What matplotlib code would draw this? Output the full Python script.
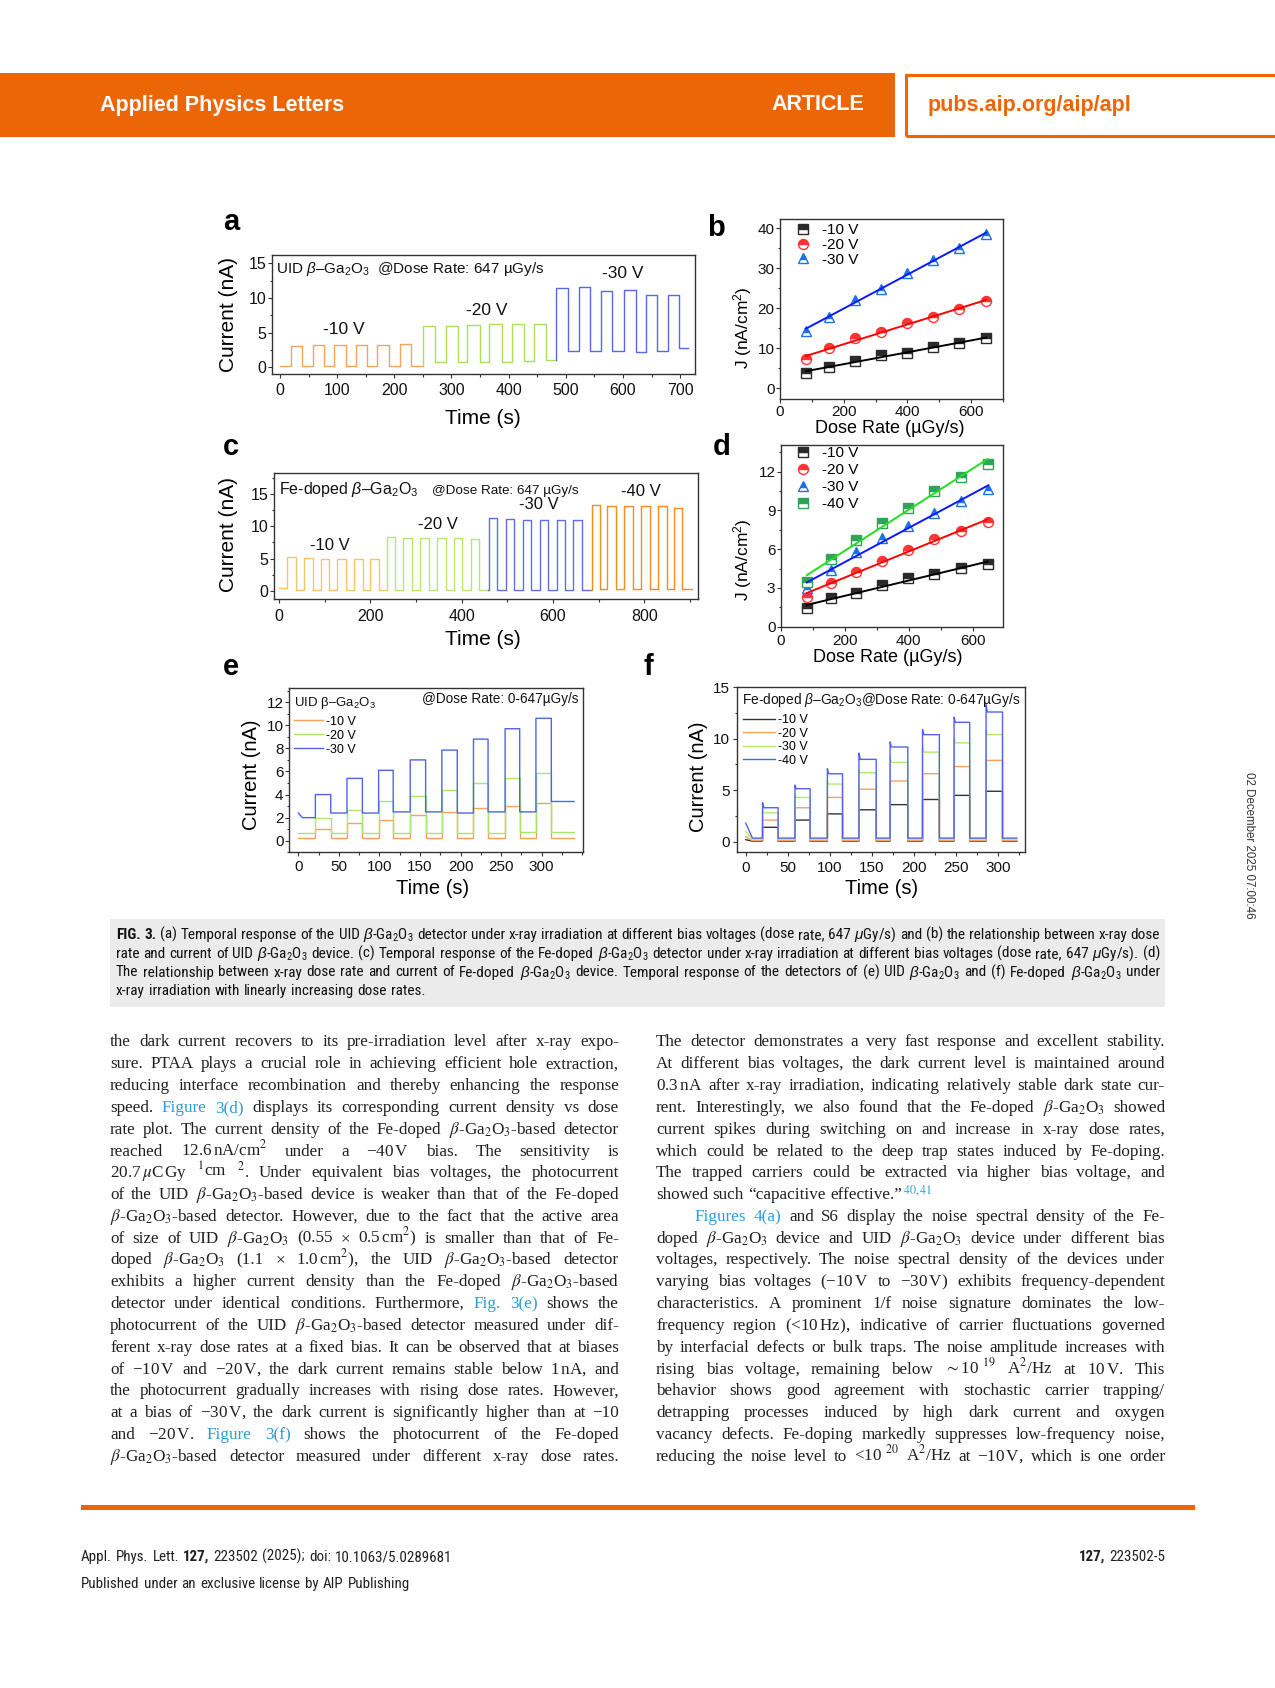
import re
import numpy as np
import matplotlib
matplotlib.use('Agg')
import matplotlib.pyplot as plt
from matplotlib import font_manager
from matplotlib.font_manager import FontProperties
from matplotlib.ticker import MultipleLocator, FixedLocator
from matplotlib.patches import Rectangle

W, H = 1275, 1688

# ======================= DATA =======================
# (a) UID beta-Ga2O3, 647 uGy/s, bias steps
a10_span = [0, 250]
a10_start = [19, 57, 95, 133, 170, 210]
a10_end = [39, 77, 115, 153, 190, 230]
a10_on = [3.1, 3.3, 3.3, 3.3, 3.3, 3.4]
a10_off = [0.2, 0.2, 0.2, 0.2, 0.2, 0.2, 0.2]
a20_span = [250, 482]
a20_start = [250, 291, 328, 366, 406, 444]
a20_end = [271, 311, 350, 388, 427, 465]
a20_on = [6.0, 6.0, 6.1, 6.2, 6.3, 6.3]
a20_off = [0.2, 0.8, 0.8, 0.8, 0.8, 0.9, 1.0]
a30_span = [482, 714]
a30_start = [483, 523, 561, 602, 640, 678]
a30_end = [503, 543, 581, 622, 660, 698]
a30_on = [11.5, 11.6, 11.0, 11.1, 10.4, 10.4]
a30_off = [1.0, 2.3, 2.4, 2.4, 2.2, 2.3, 2.8]

# (b) UID: current density vs dose rate
dose = [81, 155, 235, 316, 398, 480, 563, 647]
b_m10 = [3.7, 5.4, 6.8, 8.3, 8.9, 10.2, 11.2, 12.5]
b_m20 = [7.2, 10.0, 12.5, 14.0, 16.4, 17.9, 19.8, 21.7]
b_m30 = [14.3, 17.9, 22.1, 24.7, 28.7, 32.1, 35.0, 38.6]

# (c) Fe-doped, 647 uGy/s, bias steps
c10_span = [0, 236]
c10_start = [18, 55, 91, 128, 164, 200]
c10_end = [37, 74, 110, 147, 183, 219]
c10_on = [5.3, 5.1, 5.0, 5.0, 4.9, 4.9]
c10_off = [0.5, 0.2, 0.2, 0.2, 0.2, 0.2, 0.2]
c20_span = [236, 457]
c20_start = [237, 272, 309, 346, 384, 421]
c20_end = [255, 291, 328, 365, 402, 439]
c20_on = [8.3, 8.2, 8.2, 8.2, 8.2, 8.1]
c20_off = [0.2, 0.2, 0.2, 0.2, 0.2, 0.2, 0.2]
c30_span = [457, 683]
c30_start = [459, 497, 534, 572, 609, 645]
c30_end = [477, 515, 552, 590, 627, 663]
c30_on = [11.2, 11.1, 10.9, 10.9, 10.9, 10.9]
c30_off = [0.2, 0.2, 0.2, 0.2, 0.2, 0.2, 0.2]
c40_span = [683, 905]
c40_start = [685, 719, 756, 793, 830, 865]
c40_end = [703, 738, 775, 812, 849, 884]
c40_on = [13.2, 13.1, 13.1, 13.1, 13.1, 12.8]
c40_off = [0.2, 0.3, 0.3, 0.3, 0.3, 0.3, 0.3]

# (d) Fe-doped: current density vs dose rate
d_m10 = [1.42, 2.2, 2.63, 3.23, 3.74, 4.08, 4.52, 4.85]
d_m20 = [2.32, 3.4, 4.26, 5.11, 5.94, 6.76, 7.43, 8.08]
d_m30 = [2.97, 4.39, 5.76, 6.84, 7.79, 8.77, 9.73, 10.63]
d_m40 = [3.43, 5.24, 6.71, 8.0, 9.21, 10.53, 11.56, 12.59]

# (e) UID, linearly increasing dose rate
e_span = [0, 340]
e_start = [21, 60, 99, 138, 177, 216, 255, 293]
e_end = [40, 79, 117, 157, 196, 234, 273, 312]
e10_on = [1.0, 1.5, 1.8, 2.2, 2.45, 2.8, 3.05, 3.3]
e10_off = [0.25, 0.25, 0.25, 0.25, 0.25, 0.25, 0.25, 0.25, 0.25]
e20_on = [2.0, 2.7, 3.4, 3.9, 4.4, 5.0, 5.4, 5.9]
e20_off = [0.7, 0.65, 0.7, 0.65, 0.65, 0.7, 0.7, 0.75, 0.8]
e30_on = [4.0, 5.4, 6.1, 7.0, 7.85, 8.8, 9.7, 10.6]
e30_off = [2.0, 2.4, 2.4, 2.5, 2.5, 2.4, 2.5, 2.5, 3.4]
e30_init = 2.4

# (f) Fe-doped, linearly increasing dose rate
f_span = [0, 322]
f_start = [20, 58.5, 97, 134.5, 171.5, 210, 247.5, 285.5]
f_end = [38.5, 76.5, 115, 155, 192.5, 230, 266, 305]
f10_on = [1.4, 2.1, 2.7, 3.1, 3.6, 4.1, 4.5, 4.9]
f10_off = [0.05] * 9
f20_on = [2.1, 3.3, 4.3, 5.1, 5.9, 6.6, 7.3, 7.9]
f20_off = [0.1] * 9
f30_on = [2.8, 4.3, 5.6, 6.7, 7.7, 8.7, 9.6, 10.4]
f30_peak = [3.0, 4.5, 5.8, 7.0, 8.2, 9.2, 10.0, 10.8]
f30_off = [0.25] * 9
f40_on = [3.3, 5.15, 6.6, 8.0, 9.2, 10.4, 11.6, 12.6]
f40_peak = [3.8, 5.5, 7.1, 8.6, 9.7, 10.9, 12.1, 13.3]
f40_off = [0.35] * 9
f_init = [0.2, 0.5, 1.0, 1.8]

time_ticks_ef = [0, 50, 100, 150, 200, 250, 300]

# ======================= TEXT =======================
SUB = "$\\beta$-Ga$_\\mathregular{2}$O$_\\mathregular{3}$"
caption_lines = [
    "@@FIG. @@3. (a) Temporal response of the UID " + SUB + " detector under x-ray irradiation at different bias voltages (dose rate, 647 $\\mu$Gy/s) and (b) the relationship between x-ray dose",
    "rate and current of UID " + SUB + " device. (c) Temporal response of the Fe-doped " + SUB + " detector under x-ray irradiation at different bias voltages (dose rate, 647 $\\mu$Gy/s). (d)",
    "The relationship between x-ray dose rate and current of Fe-doped " + SUB + " device. Temporal response of the detectors of (e) UID " + SUB + " and (f) Fe-doped " + SUB + " under",
    "x-ray irradiation with linearly increasing dose rates.",
]
GO = "$\\beta$-Ga$_2$O$_3$"
left_lines = [
    "the dark current recovers to its pre-irradiation level after x-ray expo-",
    "sure. PTAA plays a crucial role in achieving efficient hole extraction,",
    "reducing interface recombination and thereby enhancing the response",
    "speed. «Figure» «3(d)» displays its corresponding current density vs dose",
    "rate plot. The current density of the Fe-doped " + GO + "-based detector",
    "reached 12.6$\\,$nA/cm$^2$ under a \u221240$\\,$V bias. The sensitivity is",
    "20.7$\\,\\mu$C$\\,$Gy $^{1}$cm $^{2}$. Under equivalent bias voltages, the photocurrent",
    "of the UID " + GO + "-based device is weaker than that of the Fe-doped",
    GO + "-based detector. However, due to the fact that the active area",
    "of size of UID " + GO + " (0.55 \u00d7 0.5$\\,$cm$^2$) is smaller than that of Fe-",
    "doped " + GO + " (1.1 \u00d7 1.0$\\,$cm$^2$), the UID " + GO + "-based detector",
    "exhibits a higher current density than the Fe-doped " + GO + "-based",
    "detector under identical conditions. Furthermore, «Fig.» «3(e)» shows the",
    "photocurrent of the UID " + GO + "-based detector measured under dif-",
    "ferent x-ray dose rates at a fixed bias. It can be observed that at biases",
    "of \u221210$\\,$V and \u221220$\\,$V, the dark current remains stable below 1$\\,$nA, and",
    "the photocurrent gradually increases with rising dose rates. However,",
    "at a bias of \u221230$\\,$V, the dark current is significantly higher than at \u221210",
    "and \u221220$\\,$V. «Figure» «3(f)» shows the photocurrent of the Fe-doped",
    GO + "-based detector measured under different x-ray dose rates.",
]
right_lines = [
    "The detector demonstrates a very fast response and excellent stability.",
    "At different bias voltages, the dark current level is maintained around",
    "0.3$\\,$nA after x-ray irradiation, indicating relatively stable dark state cur-",
    "rent. Interestingly, we also found that the Fe-doped " + GO + " showed",
    "current spikes during switching on and increase in x-ray dose rates,",
    "which could be related to the deep trap states induced by Fe-doping.",
    "The trapped carriers could be extracted via higher bias voltage, and",
    "showed such \u201ccapacitive effective.\u201d«$^{40,41}$»",
    "«Figures» «4(a)» and S6 display the noise spectral density of the Fe-",
    "doped " + GO + " device and UID " + GO + " device under different bias",
    "voltages, respectively. The noise spectral density of the devices under",
    "varying bias voltages (\u221210$\\,$V to \u221230$\\,$V) exhibits frequency-dependent",
    "characteristics. A prominent 1/f noise signature dominates the low-",
    "frequency region (<10$\\,$Hz), indicative of carrier fluctuations governed",
    "by interfacial defects or bulk traps. The noise amplitude increases with",
    "rising bias voltage, remaining below $\\sim$10$^{\\;\\;19}$ A$^2$/Hz at 10$\\,$V. This",
    "behavior shows good agreement with stochastic carrier trapping/",
    "detrapping processes induced by high dark current and oxygen",
    "vacancy defects. Fe-doping markedly suppresses low-frequency noise,",
    "reducing the noise level to <10$^{\\;\\;20}$ A$^2$/Hz at \u221210$\\,$V, which is one order",
]

# ======================= STYLE =======================
plt.rcParams['font.family'] = ['Liberation Sans', 'DejaVu Sans']
plt.rcParams['mathtext.fontset'] = 'custom'
plt.rcParams['mathtext.rm'] = 'Liberation Sans'
plt.rcParams['mathtext.it'] = 'Liberation Sans:italic'
plt.rcParams['mathtext.bf'] = 'Liberation Sans:bold'
plt.rcParams['axes.unicode_minus'] = False

HDR = '#EC6608'
LINK = '#2E9BD6'
BODY = '#231F20'
SPINE = '#333333'


def find_narrow(weight):
    cands = [('Liberation Sans Narrow', 'normal'), ('Arial Narrow', 'normal'),
             ('Roboto Condensed', 'normal'), ('DejaVu Sans', 'condensed'),
             ('Open Sans', 'condensed'), ('Noto Sans', 'condensed'), ('Roboto', 'condensed')]
    for fam, st in cands:
        try:
            path = font_manager.findfont(FontProperties(family=fam, stretch=st, weight=weight),
                                         fallback_to_default=False)
        except Exception:
            continue
        low = path.lower()
        if 'narrow' in low or 'condensed' in low:
            return FontProperties(fname=path)
    return None


nar_r = find_narrow('normal')
nar_b = find_narrow('bold')
if nar_r is None:
    SANS_SPEC = {'regular': FontProperties(family='Liberation Sans'),
                 'bold': FontProperties(family='Liberation Sans', weight='bold')}
else:
    SANS_SPEC = {'regular': nar_r, 'bold': nar_b if nar_b is not None else nar_r}
SERIF_SPEC = {'regular': FontProperties(family='Liberation Serif'),
              'bold': FontProperties(family='Liberation Serif', weight='bold')}

fig = plt.figure(figsize=(W / 100, H / 100), dpi=100)
fig.patch.set_facecolor('white')
renderer = fig.canvas.get_renderer()


def ftext(x, y, s, **kw):
    return fig.text(x / W, 1 - y / H, s, **kw)


def frect(x0, y0, x1, y1, **kw):
    r = Rectangle((x0 / W, 1 - y1 / H), (x1 - x0) / W, (y1 - y0) / H, transform=fig.transFigure, **kw)
    fig.add_artist(r)
    return r


def make_ax(l, t, r, b):
    return fig.add_axes([l / W, 1 - b / H, (r - l) / W, (b - t) / H])


def style(ax, xlim, ylim, xmaj, xmin, ymaj, ymin, lsize, xpad, ypad):
    ax.set_xlim(xlim)
    ax.set_ylim(ylim)
    if isinstance(xmaj, (list, tuple)):
        ax.xaxis.set_major_locator(FixedLocator(xmaj))
    else:
        ax.xaxis.set_major_locator(MultipleLocator(xmaj))
    ax.xaxis.set_minor_locator(MultipleLocator(xmin))
    ax.yaxis.set_major_locator(MultipleLocator(ymaj))
    ax.yaxis.set_minor_locator(MultipleLocator(ymin))
    ax.tick_params(which='both', direction='out', top=False, right=False,
                   labelsize=lsize, width=0.8, color=SPINE, labelcolor='#111111')
    ax.tick_params(which='major', length=3.2)
    ax.tick_params(which='minor', length=1.8)
    ax.tick_params(axis='x', pad=xpad)
    ax.tick_params(axis='y', pad=ypad)
    for s in ax.spines.values():
        s.set_linewidth(1.0)
        s.set_color(SPINE)


def square_wave(span, starts, ends, on, off, peak=None, init=None, init_dur=8):
    t = [span[0]]
    y = [off[0] if init is None else init]
    if init is not None:
        t.append(span[0] + init_dur)
        y.append(off[0])
    for i, (s, e) in enumerate(zip(starts, ends)):
        t += [s, s]
        y += [off[i], peak[i] if peak is not None else on[i]]
        if peak is not None:
            t.append(s + 1.5)
            y.append(on[i])
        t += [e, e]
        y += [on[i], off[i + 1]]
    t.append(span[1])
    y.append(off[-1])
    return np.array(t, float), np.array(y, float)


LW = 1.0

# ======================= HEADER / FOOTER =======================
frect(0, 73, 895, 137, color=HDR, lw=0)
frect(906, 74.5, 1285, 135.5, fill=False, ec=HDR, lw=2.2)
ftext(100, 105, 'Applied Physics Letters', color='white', fontsize=15.5, weight='bold', va='center', ha='left')
ftext(864, 105, 'ARTICLE', color='white', fontsize=15.5, weight='bold', va='center', ha='right')
ftext(928, 105, 'pubs.aip.org/aip/apl', color=HDR, fontsize=15.5, weight='bold', va='center', ha='left')
ftext(1249, 845, '02 December 2025 07:00:46', rotation=270, fontsize=8.3, color='#333333', ha='center', va='center')
frect(81, 1505, 1195, 1510, color=HDR, lw=0)

# ======================= PANEL a =======================
axa = make_ax(272, 255, 695, 374)
style(axa, (-14, 726), (-0.95, 16.2), 100, 50, 5, 2.5, 11.5, 3.5, 0.8)
for sp, st, en, on, off, col in [
        (a10_span, a10_start, a10_end, a10_on, a10_off, '#F7A35C'),
        (a20_span, a20_start, a20_end, a20_on, a20_off, '#A8E05C'),
        (a30_span, a30_start, a30_end, a30_on, a30_off, '#5468F0')]:
    t, y = square_wave(sp, st, en, on, off)
    axa.plot(t, y, color=col, lw=LW)
axa.text(-7, 13.6, 'UID $\\beta$\u2013Ga$_2$O$_3$  @Dose Rate: 647 \u00b5Gy/s', fontsize=11, va='baseline', ha='left', color='#111')
axa.text(111, 5.4, '-10 V', fontsize=12.5, ha='center', va='center', color='#111')
axa.text(362, 8.2, '-20 V', fontsize=12.5, ha='center', va='center', color='#111')
axa.text(599, 13.6, '-30 V', fontsize=12.5, ha='center', va='center', color='#111')
ftext(228, 314, 'Current (nA)', rotation=90, fontsize=15, ha='center', va='center')
ftext(483, 418, 'Time (s)', fontsize=15, ha='center', va='center')
ftext(223, 230, 'a', fontsize=21, weight='bold', va='baseline')

# ======================= PANEL b =======================
axb = make_ax(780, 219, 1003, 399)
style(axb, (0, 700), (-2.7, 42.3), 200, 100, 10, 5, 11, 1.0, 0.8)
hb = []
for vals, mk, mcol, lcol, lab in [
        (b_m10, 's', '#2B2B2B', '#000000', '-10 V'),
        (b_m20, 'o', '#FF3535', '#FF0000', '-20 V'),
        (b_m30, '^', '#1F6FE8', '#0A1AFF', '-30 V')]:
    h, = axb.plot(dose, vals, ls='none', marker=mk, ms=7.2, mec=mcol, mfc=mcol,
                  fillstyle='top', markerfacecoloralt='white', mew=1.0, label=lab)
    p = np.polyfit(dose, vals, 1)
    xx = np.array([dose[0], dose[-1]])
    axb.plot(xx, np.polyval(p, xx), color=lcol, lw=1.4, zorder=3)
    hb.append(h)
axb.legend(handles=hb, loc='upper left', bbox_to_anchor=(0.069, 0.977), frameon=False, fontsize=11,
           handlelength=1.0, handletextpad=0.74, labelspacing=0.05, borderpad=0, borderaxespad=0, numpoints=1)
ftext(743, 328, 'J (nA/cm$^2$)', rotation=90, fontsize=12.5, ha='center', va='center')
ftext(890, 429, 'Dose Rate (\u00b5Gy/s)', fontsize=13, ha='center', va='center')
ftext(707, 236, 'b', fontsize=21, weight='bold', va='baseline')

# ======================= PANEL c =======================
axc = make_ax(274, 473, 698, 599)
style(axc, (-11, 918), (-1.2, 18.2), 200, 100, 5, 2.5, 11.5, 4.3, 0.8)
for sp, st, en, on, off, col in [
        (c10_span, c10_start, c10_end, c10_on, c10_off, '#F8C46A'),
        (c20_span, c20_start, c20_end, c20_on, c20_off, '#B4E86C'),
        (c30_span, c30_start, c30_end, c30_on, c30_off, '#5B6FF2'),
        (c40_span, c40_start, c40_end, c40_on, c40_off, '#FA8A1C')]:
    t, y = square_wave(sp, st, en, on, off)
    axc.plot(t, y, color=col, lw=LW)
axc.text(0, 15.0, 'Fe-doped $\\beta$\u2013Ga$_2$O$_3$', fontsize=11.5, va='baseline', ha='left', color='#111')
axc.text(335, 15.0, '@Dose Rate: 647 \u00b5Gy/s', fontsize=9.7, va='baseline', ha='left', color='#111')
axc.text(111, 7.1, '-10 V', fontsize=12, ha='center', va='center', color='#111')
axc.text(348, 10.3, '-20 V', fontsize=12, ha='center', va='center', color='#111')
axc.text(570, 13.4, '-30 V', fontsize=12, ha='center', va='center', color='#111')
axc.text(792, 15.4, '-40 V', fontsize=12, ha='center', va='center', color='#111')
ftext(228, 535, 'Current (nA)', rotation=90, fontsize=15, ha='center', va='center')
ftext(483, 640, 'Time (s)', fontsize=15, ha='center', va='center')
ftext(223, 455, 'c', fontsize=21, weight='bold', va='baseline')

# ======================= PANEL d =======================
axd = make_ax(781, 445, 1003, 626.7)
style(axd, (0, 695), (0, 14.06), 200, 100, 3, 1.5, 11, 2.2, 0.8)
hd = []
for vals, mk, mcol, lcol, lab in [
        (d_m10, 's', '#2B2B2B', '#000000', '-10 V'),
        (d_m20, 'o', '#FF3535', '#FF0000', '-20 V'),
        (d_m30, '^', '#1F6FE8', '#0A1AFF', '-30 V'),
        (d_m40, 's', '#2EA35A', '#22DD22', '-40 V')]:
    h, = axd.plot(dose, vals, ls='none', marker=mk, ms=7.2, mec=mcol, mfc=mcol,
                  fillstyle='top', markerfacecoloralt='white', mew=1.0, label=lab)
    p = np.polyfit(dose, vals, 1)
    xx = np.array([dose[0], dose[-1]])
    axd.plot(xx, np.polyval(p, xx), color=lcol, lw=1.4, zorder=3)
    hd.append(h)
axd.legend(handles=hd, loc='upper left', bbox_to_anchor=(0.065, 0.993), frameon=False, fontsize=11,
           handlelength=1.0, handletextpad=0.74, labelspacing=0.2, borderpad=0, borderaxespad=0, numpoints=1)
ftext(743, 560, 'J (nA/cm$^2$)', rotation=90, fontsize=12.5, ha='center', va='center')
ftext(888, 658, 'Dose Rate (\u00b5Gy/s)', fontsize=13, ha='center', va='center')
ftext(713, 455, 'd', fontsize=21, weight='bold', va='baseline')

# ======================= PANEL e =======================
axe = make_ax(289, 688.3, 582.7, 852.3)
style(axe, (-11.5, 350.7), (-1.0, 13.2), time_ticks_ef, 25, 2, 1, 11, 2.0, 0.8)
he = []
for on, off, col, lab, ini in [
        (e10_on, e10_off, '#F9A05A', '-10 V', None),
        (e20_on, e20_off, '#A8E868', '-20 V', None),
        (e30_on, e30_off, '#4F63F0', '-30 V', e30_init)]:
    t, y = square_wave(e_span, e_start, e_end, on, off, init=ini, init_dur=5)
    h, = axe.plot(t, y, color=col, lw=LW, label=lab)
    he.append(h)
axe.legend(handles=he, loc='upper left', bbox_to_anchor=(0.017, 0.832), frameon=False, fontsize=9,
           handlelength=2.3, handletextpad=0.3, labelspacing=0.15, borderpad=0, borderaxespad=0)
axe.text(-5.3, 11.7, 'UID \u03b2\u2013Ga$_2$O$_3$', fontsize=9.5, va='baseline', ha='left', color='#111')
axe.text(345, 11.9, '@Dose Rate: 0-647\u00b5Gy/s', fontsize=9.8, va='baseline', ha='right', color='#111')
ftext(252, 775, 'Current (nA)', rotation=90, fontsize=14.5, ha='center', va='center')
ftext(433, 888, 'Time (s)', fontsize=14.5, ha='center', va='center')
ftext(223, 675, 'e', fontsize=21, weight='bold', va='baseline')

# ======================= PANEL f =======================
axf = make_ax(736.7, 687.3, 1025, 852.3)
style(axf, (-10.7, 331.7), (-1.03, 15), time_ticks_ef, 25, 5, 2.5, 11, 3.0, 1.4)
hf = []
for on, off, col, lab, pk, ini in [
        (f10_on, f10_off, '#333333', '-10 V', None, f_init[0]),
        (f20_on, f20_off, '#F9A05A', '-20 V', None, f_init[1]),
        (f30_on, f30_off, '#AEEA6A', '-30 V', f30_peak, f_init[2]),
        (f40_on, f40_off, '#4F63F0', '-40 V', f40_peak, f_init[3])]:
    t, y = square_wave(f_span, f_start, f_end, on, off, peak=pk, init=ini, init_dur=8)
    h, = axf.plot(t, y, color=col, lw=LW, label=lab)
    hf.append(h)
axf.legend(handles=hf, loc='upper left', bbox_to_anchor=(0.022, 0.838), frameon=False, fontsize=9,
           handlelength=2.56, handletextpad=0.25, labelspacing=0.12, borderpad=0, borderaxespad=0)
axf.text(-4.8, 13.4, 'Fe-doped $\\beta$\u2013Ga$_2$O$_3$@Dose Rate: 0-647\u00b5Gy/s', fontsize=9.9,
         va='baseline', ha='left', color='#111')
ftext(698, 777, 'Current (nA)', rotation=90, fontsize=14.5, ha='center', va='center')
ftext(882, 889, 'Time (s)', fontsize=14.5, ha='center', va='center')
ftext(643, 675, 'f', fontsize=21, weight='bold', va='baseline')

# ======================= JUSTIFIED TEXT =======================


def parse_words(line):
    words = []
    for w in line.split(' '):
        if w == '':
            continue
        segs = []
        for part in re.split('(«[^»]*»)', w):
            if not part:
                continue
            bold = False
            link = False
            if part.startswith('«'):
                part = part[1:-1]
                link = True
            if part.startswith('@@'):
                part = part[2:]
                bold = True
            segs.append((part, link, bold))
        words.append(segs)
    return words


def get_fp(spec, bold, size, math_ff):
    fp = spec['bold' if bold else 'regular'].copy()
    fp.set_size(size)
    fp.set_math_fontfamily(math_ff)
    return fp


def build_words(words, x0, ybase, spec, size, color, math_ff):
    arts, widths = [], []
    for segs in words:
        row, wsum = [], 0.0
        for s, link, bold in segs:
            t = ftext(x0, ybase, s, fontproperties=get_fp(spec, bold, size, math_ff),
                      color=LINK if link else color, ha='left', va='baseline')
            w = t.get_window_extent(renderer).width
            row.append((t, w))
            wsum += w
        arts.append(row)
        widths.append(wsum)
    return arts, widths


def fit_scale(lines, x0, x1, spec, size, math_ff, gapfrac=0.24):
    scale = 1.0
    for ln in lines:
        words = parse_words(ln)
        arts, widths = build_words(words, 0, 0, spec, size, 'k', math_ff)
        for row in arts:
            for t, _ in row:
                t.remove()
        px = size * 100 / 72
        need = sum(widths) + (len(words) - 1) * gapfrac * px
        scale = min(scale, (x1 - x0) / need)
    return scale


def draw_line(line, x0, x1, ybase, size, spec, color, justify=True, math_ff='stix'):
    words = parse_words(line)
    arts, widths = build_words(words, x0, ybase, spec, size, color, math_ff)
    n = len(words)
    total = sum(widths)
    px = size * 100 / 72
    gap = (x1 - x0 - total) / (n - 1) if (justify and n > 1) else 0.27 * px
    x = x0
    for row in arts:
        for t, w in row:
            t.set_x(x / W)
            x += w
        x += gap


# caption
frect(110, 919, 1165, 1007, color='#EBEBEB', lw=0, zorder=-5)
cap_base = [939, 958, 976.5, 995]
cap_size = 11.0
cap_size *= fit_scale(caption_lines[:3], 116, 1160, SANS_SPEC, cap_size, 'custom', 0.24)
for i, ln in enumerate(caption_lines):
    draw_line(ln, 116, 1160, cap_base[i], cap_size, SANS_SPEC, '#111111',
              justify=(i < len(caption_lines) - 1), math_ff='custom')

# body
body_base0 = 1046.5
body_step = 21.8
body_size = 12.3
just_left = left_lines
just_right = [ln for i, ln in enumerate(right_lines) if i not in (7, 8)]
body_size *= min(fit_scale(just_left, 110, 619, SERIF_SPEC, body_size, 'stix', 0.22),
                 fit_scale(just_right, 656, 1165, SERIF_SPEC, body_size, 'stix', 0.22),
                 fit_scale([right_lines[8]], 695, 1165, SERIF_SPEC, body_size, 'stix', 0.22))
for i, ln in enumerate(left_lines):
    draw_line(ln, 110, 619, body_base0 + i * body_step, body_size, SERIF_SPEC, BODY, justify=True)
for i, ln in enumerate(right_lines):
    x0 = 695 if i == 8 else 656
    draw_line(ln, x0, 1165, body_base0 + i * body_step, body_size, SERIF_SPEC, BODY, justify=(i != 7))

# footer
foot_size = 10.8 * (1.0 if nar_r is not None else 0.82)
draw_line("Appl. Phys. Lett. @@127, 223502 (2025); doi: 10.1063/5.0289681", 81, 450, 1561, foot_size,
          SANS_SPEC, BODY, justify=False, math_ff='custom')
draw_line("Published under an exclusive license by AIP Publishing", 81, 420, 1588, foot_size,
          SANS_SPEC, BODY, justify=False, math_ff='custom')
foot_r = "@@127, 223502-5"
words_r = parse_words(foot_r)
arts_r, widths_r = build_words(words_r, 0, 1561, SANS_SPEC, foot_size, BODY, 'custom')
xr = 1165 - sum(widths_r) - 0.27 * foot_size * 100 / 72 * (len(words_r) - 1)
for row in arts_r:
    for t, w in row:
        t.set_x(xr / W)
        xr += w
    xr += 0.27 * foot_size * 100 / 72

fig.savefig('out.png', dpi=100)
